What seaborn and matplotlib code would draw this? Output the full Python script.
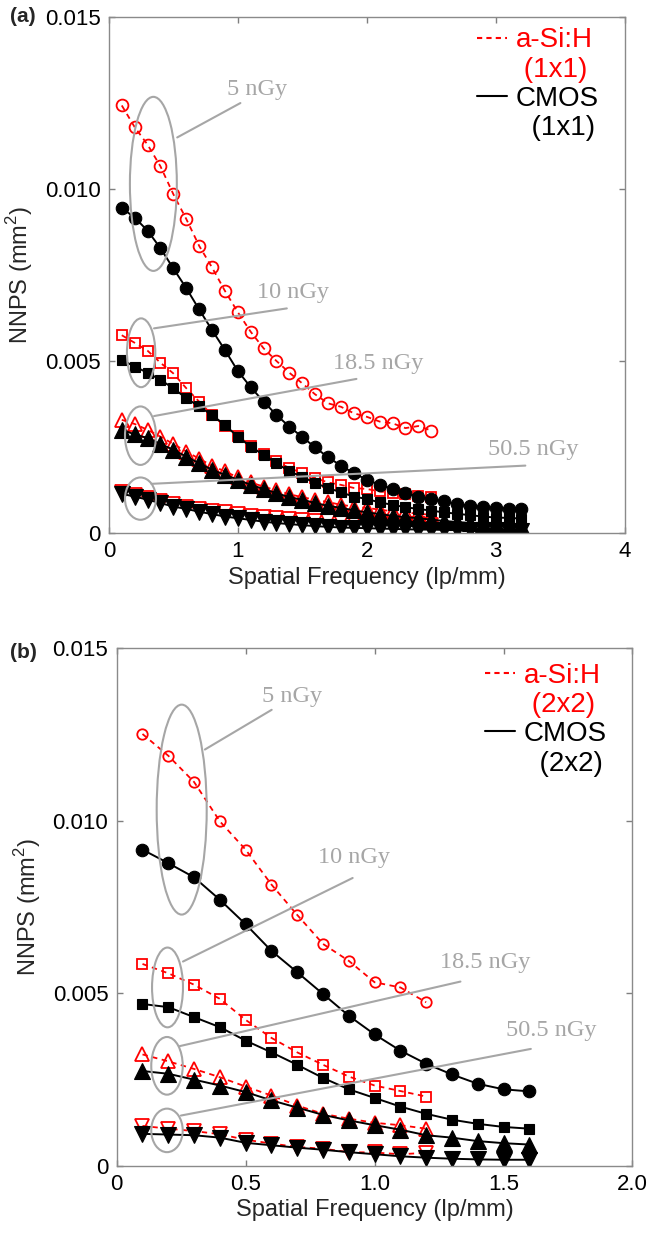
import numpy as np
import pandas as pd
import matplotlib
matplotlib.use("Agg")
import matplotlib.pyplot as plt
from matplotlib.lines import Line2D
from matplotlib.patches import Ellipse
import seaborn as sns

# spatial frequency sampling (lp/mm)
freq_1x1_asi = [0.1, 0.2, 0.3, 0.4, 0.5, 0.6, 0.7, 0.8, 0.9, 1.0, 1.1, 1.2, 1.3,
                1.4, 1.5, 1.6, 1.7, 1.8, 1.9, 2.0, 2.1, 2.2, 2.3, 2.4, 2.5]
freq_1x1_cmos = freq_1x1_asi + [2.6, 2.7, 2.8, 2.9, 3.0, 3.1, 3.2]
freq_2x2_asi = [0.1, 0.2, 0.3, 0.4, 0.5, 0.6, 0.7, 0.8, 0.9, 1.0, 1.1, 1.2]
freq_2x2_cmos = freq_2x2_asi + [1.3, 1.4, 1.5, 1.6]

doses = ["5 nGy", "10 nGy", "18.5 nGy", "50.5 nGy"]

# NNPS values, in units of 1e-3 mm^2
# (a) 1x1 binning
asi_1x1_5 = [12.43, 11.8, 11.29, 10.66, 9.85, 9.13, 8.35, 7.72, 7.04, 6.42, 5.85, 5.37, 5.0,
             4.66, 4.35, 4.03, 3.77, 3.67, 3.48, 3.38, 3.24, 3.19, 3.05, 3.11, 2.98]
asi_1x1_10 = [5.75, 5.53, 5.3, 4.95, 4.64, 4.21, 3.82, 3.43, 3.11, 2.82, 2.54, 2.3, 2.08,
              1.89, 1.74, 1.6, 1.47, 1.4, 1.31, 1.28, 1.21, 1.16, 1.14, 1.08, 1.04]
asi_1x1_18 = [3.29, 3.17, 3.0, 2.8, 2.59, 2.37, 2.16, 1.96, 1.79, 1.62, 1.47, 1.35, 1.24,
              1.13, 1.04, 0.97, 0.9, 0.82, 0.77, 0.73, 0.68, 0.63, 0.6, 0.56, 0.53]
asi_1x1_50 = [1.18, 1.11, 1.02, 0.92, 0.85, 0.77, 0.71, 0.65, 0.6, 0.55, 0.5, 0.46, 0.44,
              0.41, 0.38, 0.36, 0.34, 0.32, 0.31, 0.29, 0.28, 0.27, 0.26, 0.25, 0.24]
cmos_1x1_5 = [9.45, 9.17, 8.79, 8.28, 7.69, 7.12, 6.5, 5.9, 5.32, 4.71, 4.24, 3.82, 3.43,
              3.09, 2.79, 2.49, 2.2, 1.96, 1.74, 1.55, 1.4, 1.29, 1.16, 1.06, 0.99,
              0.92, 0.85, 0.79, 0.75, 0.73, 0.71, 0.70]
cmos_1x1_10 = [5.03, 4.84, 4.66, 4.45, 4.21, 3.92, 3.68, 3.43, 3.14, 2.8, 2.51, 2.27, 2.03,
               1.79, 1.64, 1.45, 1.31, 1.18, 1.06, 0.99, 0.89, 0.82, 0.75, 0.7, 0.65,
               0.6, 0.56, 0.52, 0.48, 0.45, 0.44, 0.42]
cmos_1x1_18 = [3.0, 2.87, 2.76, 2.59, 2.42, 2.22, 2.03, 1.84, 1.69, 1.55, 1.4, 1.28, 1.16,
               1.04, 0.97, 0.87, 0.79, 0.73, 0.66, 0.6, 0.55, 0.5, 0.46, 0.43, 0.39,
               0.35, 0.32, 0.29, 0.27, 0.25, 0.23, 0.21]
cmos_1x1_50 = [1.14, 1.06, 0.97, 0.87, 0.77, 0.7, 0.62, 0.55, 0.48, 0.43, 0.38, 0.33, 0.29,
               0.26, 0.23, 0.2, 0.18, 0.16, 0.15, 0.14, 0.13, 0.12, 0.11, 0.1, 0.1,
               0.09, 0.09, 0.08, 0.08, 0.08, 0.07, 0.07]
# (b) 2x2 binning
asi_2x2_5 = [12.51, 11.88, 11.12, 9.98, 9.16, 8.15, 7.27, 6.43, 5.94, 5.32, 5.17, 4.74]
asi_2x2_10 = [5.85, 5.58, 5.25, 4.84, 4.23, 3.71, 3.29, 2.93, 2.59, 2.33, 2.17, 2.01]
asi_2x2_18 = [3.23, 3.03, 2.81, 2.57, 2.3, 2.04, 1.75, 1.51, 1.37, 1.25, 1.18, 1.08]
asi_2x2_50 = [1.16, 1.08, 1.01, 0.92, 0.76, 0.65, 0.55, 0.5, 0.4, 0.39, 0.34, 0.38]
cmos_2x2_5 = [9.16, 8.77, 8.36, 7.71, 7.0, 6.23, 5.61, 4.98, 4.35, 3.81, 3.34, 2.96,
              2.65, 2.38, 2.22, 2.16]
cmos_2x2_10 = [4.69, 4.6, 4.31, 4.02, 3.63, 3.29, 2.93, 2.55, 2.22, 1.97, 1.72, 1.51,
               1.34, 1.22, 1.13, 1.08]
cmos_2x2_18 = [2.75, 2.67, 2.5, 2.33, 2.14, 1.9, 1.69, 1.48, 1.32, 1.18, 1.05, 0.89,
               0.82, 0.72, 0.66, 0.62]
cmos_2x2_50 = [0.93, 0.91, 0.89, 0.82, 0.67, 0.6, 0.53, 0.47, 0.4, 0.34, 0.28, 0.24,
               0.21, 0.19, 0.18, 0.18]


def make_long_df():
    rows = []
    series = [
        ("1x1", "a-Si:H", freq_1x1_asi, [asi_1x1_5, asi_1x1_10, asi_1x1_18, asi_1x1_50]),
        ("1x1", "CMOS", freq_1x1_cmos, [cmos_1x1_5, cmos_1x1_10, cmos_1x1_18, cmos_1x1_50]),
        ("2x2", "a-Si:H", freq_2x2_asi, [asi_2x2_5, asi_2x2_10, asi_2x2_18, asi_2x2_50]),
        ("2x2", "CMOS", freq_2x2_cmos, [cmos_2x2_5, cmos_2x2_10, cmos_2x2_18, cmos_2x2_50]),
    ]
    for binning, det, freq, vals in series:
        for dose, v in zip(doses, vals):
            for f, y in zip(freq, v):
                rows.append({"binning": binning, "detector": det, "dose": dose,
                             "freq": f, "nnps": y * 1e-3})
    return pd.DataFrame(rows)


markers = {"5 nGy": "o", "10 nGy": "s", "18.5 nGy": "^", "50.5 nGy": "v"}
grey = "#a6a6a6"


def draw_panel(ax, df, binning, msize, annots, xticks, xticklabels, xmax, leg_anchor):
    d_bin = df[df.binning == binning]
    # a-Si:H first, CMOS drawn on top
    for dose in doses:
        d = d_bin[(d_bin.detector == "a-Si:H") & (d_bin.dose == dose)]
        sns.lineplot(data=d, x="freq", y="nnps", ax=ax, color="red", linewidth=1.3,
                     linestyle=(0, (3, 2.5)), marker=markers[dose],
                     markersize=msize["a-Si:H"][dose], markerfacecolor="none",
                     markeredgecolor="red", markeredgewidth=1.3, legend=False)
    for dose in doses:
        d = d_bin[(d_bin.detector == "CMOS") & (d_bin.dose == dose)]
        sns.lineplot(data=d, x="freq", y="nnps", ax=ax, color="black", linewidth=1.4,
                     marker=markers[dose], markersize=msize["CMOS"][dose],
                     markerfacecolor="black", markeredgecolor="black",
                     markeredgewidth=0.8, legend=False)

    # dose annotations: ellipse + leader line + label
    for (cx, cy), w, h, p0, p1, tpos, label in annots:
        ax.add_patch(Ellipse((cx, cy), w, h, fill=False, edgecolor=grey, linewidth=1.5,
                             zorder=5))
        ax.plot([p0[0], p1[0]], [p0[1], p1[1]], color=grey, linewidth=1.5, zorder=5)
        ax.text(tpos[0], tpos[1], label, color=grey, fontsize=17.5, ha="center",
                va="center", family=["Liberation Serif", "DejaVu Serif"], zorder=6)

    ax.set_xlim(0, xmax)
    ax.set_ylim(0, 0.015)
    ax.set_xticks(xticks)
    ax.set_xticklabels(xticklabels)
    ax.set_yticks([0, 0.005, 0.010, 0.015])
    ax.set_yticklabels(["0", "0.005", "0.010", "0.015"])
    ax.tick_params(direction="in", top=True, right=True, length=4, width=1,
                   color="#7f7f7f", labelcolor="black", labelsize=16, pad=6)
    for sp in ax.spines.values():
        sp.set_visible(True)
        sp.set_color("#8a8a8a")
        sp.set_linewidth(1.0)
    ax.set_xlabel("Spatial Frequency (lp/mm)", fontsize=17, labelpad=3)
    ax.set_ylabel("NNPS (mm$^{2}$)", fontsize=17, labelpad=7)

    # legend (MATLAB-like, two-line labels)
    handles = [Line2D([], [], color="red", linestyle=(0, (2.5, 2)), linewidth=1.5),
               Line2D([], [], linestyle="none"),
               Line2D([], [], color="black", linewidth=1.5),
               Line2D([], [], linestyle="none")]
    labels = ["a-Si:H", " (" + binning + ")", "CMOS", "  (" + binning + ")"]
    ax.legend(handles, labels, loc="upper right", bbox_to_anchor=leg_anchor,
              frameon=False, fontsize=20, labelcolor=["red", "red", "black", "black"],
              handlelength=1.1, handletextpad=0.3, labelspacing=0.12,
              borderpad=0, borderaxespad=0)


df = make_long_df()

sns.set_style("ticks")
plt.rcParams["font.family"] = ["Liberation Sans", "DejaVu Sans"]
plt.rcParams["mathtext.fontset"] = "custom"
plt.rcParams["mathtext.rm"] = "Liberation Sans"

fig = plt.figure(figsize=(6.52, 12.35), dpi=100)
ax1 = fig.add_axes([0.167, 0.5684, 0.791, 0.4178])
ax2 = fig.add_axes([0.179, 0.0559, 0.791, 0.4194])

msize_top = {"CMOS": {"5 nGy": 9, "10 nGy": 7, "18.5 nGy": 11.5, "50.5 nGy": 11.5},
             "a-Si:H": {"5 nGy": 8.5, "10 nGy": 7.5, "18.5 nGy": 10.5, "50.5 nGy": 10.5}}
msize_bot = {"CMOS": {"5 nGy": 9, "10 nGy": 7.5, "18.5 nGy": 11, "50.5 nGy": 11},
             "a-Si:H": {"5 nGy": 7.5, "10 nGy": 7, "18.5 nGy": 9.5, "50.5 nGy": 9.5}}

annots_top = [
    ((0.345, 10.15e-3), 0.364, 5.06e-3, (0.53, 11.5e-3), (1.02, 12.5e-3), (1.15, 12.9e-3), "5 nGy"),
    ((0.25, 5.24e-3), 0.22, 2.0e-3, (0.35, 5.95e-3), (1.38, 6.53e-3), (1.43, 6.98e-3), "10 nGy"),
    ((0.245, 2.83e-3), 0.24, 1.7e-3, (0.35, 3.40e-3), (1.92, 4.48e-3), (2.09, 4.93e-3), "18.5 nGy"),
    ((0.245, 1.0e-3), 0.24, 1.23e-3, (0.33, 1.43e-3), (3.23, 1.96e-3), (3.29, 2.42e-3), "50.5 nGy"),
]
annots_bot = [
    ((0.252, 10.32e-3), 0.194, 6.08e-3, (0.342, 12.06e-3), (0.601, 13.21e-3), (0.68, 13.6e-3), "5 nGy"),
    ((0.197, 5.17e-3), 0.12, 2.31e-3, (0.257, 5.92e-3), (0.915, 8.34e-3), (0.92, 8.92e-3), "10 nGy"),
    ((0.195, 2.9e-3), 0.122, 1.67e-3, (0.244, 3.47e-3), (1.333, 5.34e-3), (1.43, 5.9e-3), "18.5 nGy"),
    ((0.195, 1.03e-3), 0.122, 1.26e-3, (0.249, 1.46e-3), (1.606, 3.39e-3), (1.687, 3.92e-3), "50.5 nGy"),
]

draw_panel(ax1, df, "1x1", msize_top, annots_top, [0, 1, 2, 3, 4],
           ["0", "1", "2", "3", "4"], 4, (0.95, 0.98))
draw_panel(ax2, df, "2x2", msize_bot, annots_bot, [0, 0.5, 1.0, 1.5, 2.0],
           ["0", "0.5", "1.0", "1.5", "2.0"], 2.0, (0.95, 0.972))

fig.text(0.015, 1 - 17 / 1235, "(a)", fontsize=15, fontweight="bold", va="center")
fig.text(0.015, 1 - 652 / 1235, "(b)", fontsize=15, fontweight="bold", va="center")

fig.savefig("out.png", dpi=100)
